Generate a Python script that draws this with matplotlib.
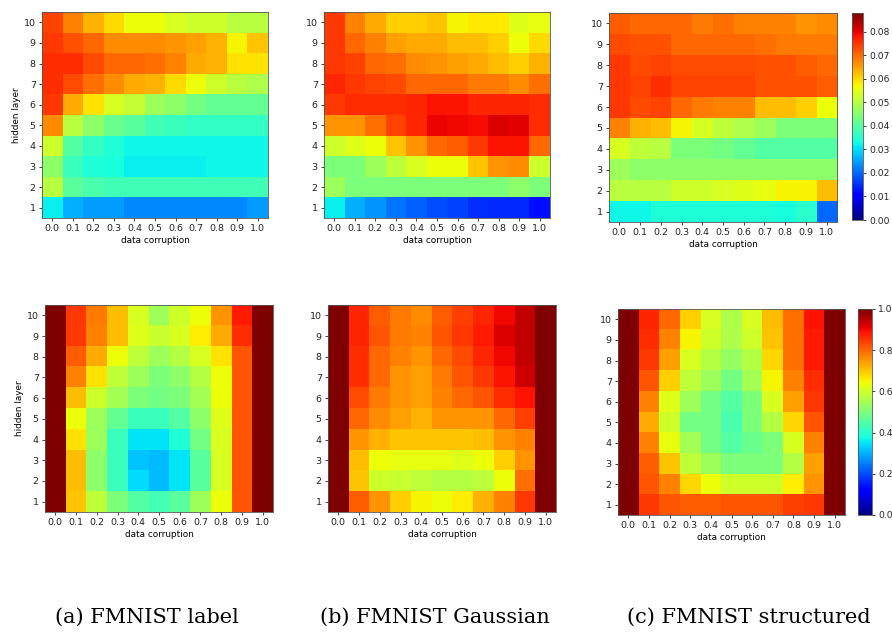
import numpy as np
import matplotlib
matplotlib.use("Agg")
import matplotlib.pyplot as plt

corruption = [0.0, 0.1, 0.2, 0.3, 0.4, 0.5, 0.6, 0.7, 0.8, 0.9, 1.0]
hidden_layers = [1, 2, 3, 4, 5, 6, 7, 8, 9, 10]
captions = ["(a) FMNIST label", "(b) FMNIST Gaussian", "(c) FMNIST structured"]
top_ticks = [0.0, 0.01, 0.02, 0.03, 0.04, 0.05, 0.06, 0.07, 0.08]
bottom_ticks = [0.0, 0.2, 0.4, 0.6, 0.8, 1.0]

# rows listed from hidden layer 10 (top) down to hidden layer 1 (bottom)
label_top = [
    [0.0739, 0.0678, 0.0634, 0.0598, 0.0563, 0.0563, 0.0537, 0.0528, 0.0528, 0.0502, 0.0502],
    [0.0748, 0.0722, 0.0704, 0.0669, 0.0669, 0.0669, 0.0660, 0.0651, 0.0634, 0.0572, 0.0616],
    [0.0757, 0.0757, 0.0730, 0.0704, 0.0704, 0.0695, 0.0678, 0.0642, 0.0634, 0.0590, 0.0590],
    [0.0757, 0.0730, 0.0695, 0.0669, 0.0642, 0.0634, 0.0598, 0.0563, 0.0528, 0.0502, 0.0493],
    [0.0748, 0.0642, 0.0590, 0.0537, 0.0519, 0.0475, 0.0458, 0.0431, 0.0414, 0.0414, 0.0414],
    [0.0669, 0.0502, 0.0458, 0.0422, 0.0405, 0.0378, 0.0370, 0.0361, 0.0361, 0.0361, 0.0361],
    [0.0528, 0.0396, 0.0361, 0.0343, 0.0326, 0.0326, 0.0326, 0.0326, 0.0326, 0.0326, 0.0326],
    [0.0458, 0.0370, 0.0343, 0.0334, 0.0317, 0.0317, 0.0317, 0.0317, 0.0326, 0.0326, 0.0326],
    [0.0502, 0.0405, 0.0387, 0.0378, 0.0378, 0.0378, 0.0378, 0.0378, 0.0378, 0.0378, 0.0378],
    [0.0317, 0.0264, 0.0246, 0.0246, 0.0229, 0.0229, 0.0229, 0.0229, 0.0229, 0.0229, 0.0246],
]
gaussian_top = [
    [0.0748, 0.0678, 0.0642, 0.0607, 0.0607, 0.0616, 0.0572, 0.0581, 0.0581, 0.0546, 0.0554],
    [0.0748, 0.0704, 0.0678, 0.0651, 0.0642, 0.0642, 0.0625, 0.0625, 0.0607, 0.0563, 0.0598],
    [0.0748, 0.0739, 0.0704, 0.0695, 0.0669, 0.0660, 0.0651, 0.0642, 0.0625, 0.0607, 0.0634],
    [0.0766, 0.0748, 0.0739, 0.0730, 0.0704, 0.0704, 0.0704, 0.0686, 0.0686, 0.0669, 0.0695],
    [0.0748, 0.0757, 0.0757, 0.0757, 0.0766, 0.0783, 0.0783, 0.0766, 0.0766, 0.0766, 0.0757],
    [0.0660, 0.0660, 0.0695, 0.0739, 0.0766, 0.0796, 0.0792, 0.0788, 0.0810, 0.0801, 0.0757],
    [0.0528, 0.0546, 0.0563, 0.0616, 0.0660, 0.0704, 0.0713, 0.0748, 0.0783, 0.0783, 0.0704],
    [0.0440, 0.0440, 0.0475, 0.0510, 0.0537, 0.0563, 0.0563, 0.0616, 0.0660, 0.0669, 0.0528],
    [0.0475, 0.0440, 0.0440, 0.0440, 0.0440, 0.0440, 0.0440, 0.0440, 0.0440, 0.0458, 0.0440],
    [0.0317, 0.0264, 0.0238, 0.0211, 0.0194, 0.0176, 0.0167, 0.0150, 0.0145, 0.0145, 0.0123],
]
structured_top = [
    [0.0713, 0.0704, 0.0704, 0.0704, 0.0686, 0.0695, 0.0678, 0.0678, 0.0678, 0.0660, 0.0669],
    [0.0730, 0.0722, 0.0722, 0.0704, 0.0704, 0.0704, 0.0704, 0.0695, 0.0686, 0.0686, 0.0686],
    [0.0748, 0.0730, 0.0739, 0.0730, 0.0730, 0.0730, 0.0730, 0.0722, 0.0722, 0.0713, 0.0704],
    [0.0748, 0.0739, 0.0757, 0.0739, 0.0739, 0.0739, 0.0739, 0.0722, 0.0722, 0.0722, 0.0713],
    [0.0748, 0.0730, 0.0739, 0.0704, 0.0686, 0.0678, 0.0678, 0.0625, 0.0625, 0.0607, 0.0563],
    [0.0678, 0.0634, 0.0625, 0.0572, 0.0537, 0.0510, 0.0493, 0.0475, 0.0440, 0.0440, 0.0440],
    [0.0537, 0.0510, 0.0502, 0.0440, 0.0440, 0.0431, 0.0414, 0.0396, 0.0396, 0.0396, 0.0396],
    [0.0475, 0.0458, 0.0458, 0.0458, 0.0458, 0.0458, 0.0458, 0.0458, 0.0458, 0.0458, 0.0458],
    [0.0502, 0.0502, 0.0502, 0.0528, 0.0528, 0.0537, 0.0546, 0.0554, 0.0572, 0.0572, 0.0625],
    [0.0326, 0.0326, 0.0343, 0.0343, 0.0343, 0.0343, 0.0343, 0.0343, 0.0334, 0.0352, 0.0202],
]

label_bottom = [
    [1.00, 0.85, 0.78, 0.71, 0.61, 0.54, 0.60, 0.64, 0.75, 0.88, 1.00],
    [1.00, 0.85, 0.77, 0.71, 0.62, 0.59, 0.61, 0.66, 0.73, 0.86, 1.00],
    [1.00, 0.81, 0.73, 0.64, 0.58, 0.54, 0.57, 0.61, 0.67, 0.82, 1.00],
    [1.00, 0.77, 0.67, 0.58, 0.54, 0.50, 0.52, 0.57, 0.64, 0.82, 1.00],
    [1.00, 0.71, 0.60, 0.55, 0.50, 0.49, 0.50, 0.55, 0.64, 0.82, 1.00],
    [1.00, 0.64, 0.54, 0.47, 0.42, 0.42, 0.45, 0.52, 0.62, 0.82, 1.00],
    [1.00, 0.67, 0.54, 0.42, 0.35, 0.35, 0.39, 0.49, 0.61, 0.82, 1.00],
    [1.00, 0.71, 0.52, 0.42, 0.32, 0.31, 0.35, 0.46, 0.61, 0.82, 1.00],
    [1.00, 0.71, 0.52, 0.42, 0.34, 0.31, 0.35, 0.46, 0.61, 0.82, 1.00],
    [1.00, 0.70, 0.58, 0.50, 0.45, 0.43, 0.46, 0.54, 0.64, 0.82, 1.00],
]
gaussian_bottom = [
    [1.00, 0.87, 0.81, 0.78, 0.76, 0.81, 0.84, 0.87, 0.90, 0.94, 1.00],
    [1.00, 0.87, 0.82, 0.78, 0.77, 0.82, 0.85, 0.88, 0.92, 0.94, 1.00],
    [1.00, 0.86, 0.80, 0.77, 0.75, 0.80, 0.83, 0.87, 0.90, 0.94, 1.00],
    [1.00, 0.86, 0.80, 0.75, 0.74, 0.78, 0.82, 0.85, 0.89, 0.93, 1.00],
    [1.00, 0.83, 0.78, 0.75, 0.74, 0.77, 0.80, 0.82, 0.86, 0.89, 1.00],
    [1.00, 0.80, 0.76, 0.74, 0.72, 0.75, 0.75, 0.75, 0.80, 0.84, 1.00],
    [1.00, 0.75, 0.72, 0.70, 0.70, 0.70, 0.70, 0.71, 0.75, 0.77, 1.00],
    [1.00, 0.71, 0.64, 0.63, 0.63, 0.63, 0.62, 0.64, 0.69, 0.75, 1.00],
    [1.00, 0.70, 0.60, 0.59, 0.58, 0.57, 0.57, 0.58, 0.64, 0.79, 1.00],
    [1.00, 0.81, 0.75, 0.69, 0.65, 0.64, 0.66, 0.72, 0.77, 0.85, 1.00],
]
structured_bottom = [
    [1.00, 0.87, 0.80, 0.69, 0.61, 0.56, 0.61, 0.71, 0.79, 0.89, 1.00],
    [1.00, 0.86, 0.77, 0.65, 0.60, 0.56, 0.60, 0.70, 0.79, 0.88, 1.00],
    [1.00, 0.85, 0.74, 0.61, 0.57, 0.53, 0.57, 0.68, 0.79, 0.88, 1.00],
    [1.00, 0.82, 0.69, 0.58, 0.54, 0.49, 0.55, 0.65, 0.77, 0.86, 1.00],
    [1.00, 0.77, 0.62, 0.54, 0.49, 0.45, 0.50, 0.61, 0.74, 0.85, 1.00],
    [1.00, 0.73, 0.60, 0.49, 0.49, 0.44, 0.50, 0.57, 0.68, 0.82, 1.00],
    [1.00, 0.77, 0.63, 0.55, 0.49, 0.45, 0.48, 0.50, 0.61, 0.77, 1.00],
    [1.00, 0.81, 0.70, 0.58, 0.54, 0.50, 0.50, 0.50, 0.57, 0.74, 1.00],
    [1.00, 0.82, 0.77, 0.68, 0.64, 0.60, 0.60, 0.60, 0.66, 0.75, 1.00],
    [1.00, 0.85, 0.82, 0.81, 0.81, 0.82, 0.82, 0.82, 0.84, 0.85, 1.00],
]

W, H = 892, 632
fig = plt.figure(figsize=(W / 100, H / 100), dpi=100)
fig.patch.set_facecolor("white")


def px_axes(x0, y0, x1, y1):
    return fig.add_axes([x0 / W, 1 - y1 / H, (x1 - x0) / W, (y1 - y0) / H])


TOP_MAX = 0.088
panels = [
    (label_top, (42, 12, 268, 218), 0, TOP_MAX, True),
    (gaussian_top, (324, 12, 550, 218), 0, TOP_MAX, False),
    (structured_top, (609, 13, 837, 222), 0, TOP_MAX, False),
    (label_bottom, (45, 305, 273, 512), 0, 1.0, True),
    (gaussian_bottom, (328, 305, 556, 512), 0, 1.0, False),
    (structured_bottom, (618, 309, 845, 515), 0, 1.0, False),
]

images = []
for data, box, vmin, vmax, ylab in panels:
    ax = px_axes(*box)
    arr = np.flipud(np.array(data))
    im = ax.imshow(arr, cmap="jet", vmin=vmin, vmax=vmax, origin="lower",
                   aspect="auto", interpolation="nearest")
    images.append(im)
    ax.set_xticks(range(len(corruption)))
    ax.set_xticklabels([f"{c:.1f}" for c in corruption], fontsize=6.8)
    ax.set_yticks(range(len(hidden_layers)))
    ax.set_yticklabels([str(h) for h in hidden_layers], fontsize=6.8)
    ax.set_xlabel("data corruption", fontsize=6.4, labelpad=2)
    if ylab:
        ax.set_ylabel("hidden layer", fontsize=6.4, labelpad=2)
    ax.tick_params(length=2.5, width=0.6, pad=2, colors="#222222")
    for s in ax.spines.values():
        s.set_linewidth(0.6)
        s.set_color("#555555")

# colorbars
cax1 = px_axes(852, 13, 863, 220)
cb1 = fig.colorbar(images[2], cax=cax1, ticks=top_ticks)
cb1.ax.set_yticklabels([f"{v:.2f}" for v in top_ticks])
cax2 = px_axes(858, 309, 872, 515)
cb2 = fig.colorbar(images[5], cax=cax2, ticks=bottom_ticks)
cb2.ax.set_yticklabels([f"{v:.1f}" for v in bottom_ticks])
for cb in (cb1, cb2):
    cb.ax.tick_params(labelsize=6.6, length=2.5, width=0.6, pad=2, colors="#222222")
    cb.outline.set_linewidth(0.6)
    cb.outline.set_edgecolor("#555555")

# captions
for cx, text in zip([147, 435, 749], captions):
    fig.text(cx / W, 1 - 617 / H, text, ha="center", va="center",
             fontsize=15, family=["DejaVu Serif"])

fig.savefig("out.png", dpi=100, facecolor="white")
